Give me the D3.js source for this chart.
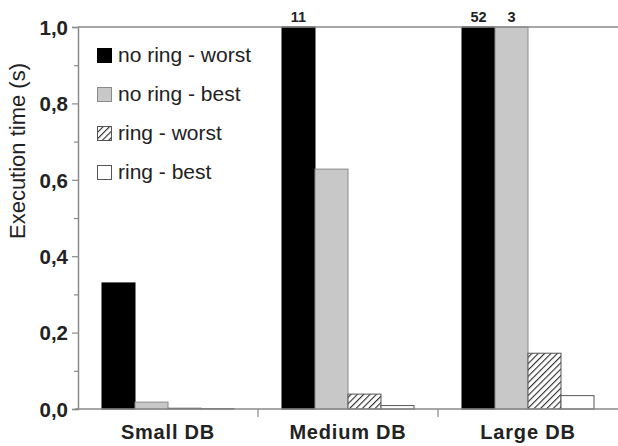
<!DOCTYPE html>
<html><head><meta charset="utf-8">
<script src="https://cdn.jsdelivr.net/npm/d3@7"></script>
<style>body{margin:0;background:#fff}svg{display:block}text{font-family:"Liberation Sans",Arial,sans-serif}</style>
</head><body><svg id="c" width="618" height="446"></svg>
<script>
const categories = ["Small DB", "Medium DB", "Large DB"];
const seriesNames = ["no ring - worst", "no ring - best", "ring - worst", "ring - best"];
const noRingWorst = [0.33, 11, 52];
const noRingBest = [0.018, 0.628, 3];
const ringWorst = [0.002, 0.039, 0.146];
const ringBest = [0.001, 0.009, 0.035];
const yTicks = [0, 0.2, 0.4, 0.6, 0.8, 1.0];
const yMinorTicks = [0.1, 0.3, 0.5, 0.7, 0.9];
const yMax = 1.0;

const series = [noRingWorst, noRingBest, ringWorst, ringBest];
const fills = ["#000", "#c8c8c8", "url(#hatch)", "#fff"];
const strokes = ["#000", "#8a8a8a", "#555", "#555"];

const svg = d3.select("#c");
const L = 78, R = 618, T = 27, B = 409;

const defs = svg.append("defs");
const pat = defs.append("pattern").attr("id", "hatch").attr("patternUnits", "userSpaceOnUse")
  .attr("width", 4.5).attr("height", 4.5).attr("patternTransform", "rotate(45)");
pat.append("rect").attr("width", 4.5).attr("height", 4.5).attr("fill", "#fff");
pat.append("line").attr("x1", 0).attr("y1", 0).attr("x2", 0).attr("y2", 4.5)
  .attr("stroke", "#2a2a2a").attr("stroke-width", 2.2);

const x0 = d3.scaleBand().domain(categories).range([L, R]).paddingInner(0).paddingOuter(0);
const x1 = d3.scaleBand().domain(seriesNames).range([0, x0.bandwidth()]).paddingInner(0).paddingOuter(0.7273);
const y = d3.scaleLinear().domain([0, yMax]).range([B, T]).clamp(true);

// bars
categories.forEach((c, ci) => {
  seriesNames.forEach((s, si) => {
    const v = series[si][ci];
    svg.append("rect")
      .attr("x", x0(c) + x1(s))
      .attr("y", y(v))
      .attr("width", x1.bandwidth())
      .attr("height", B - y(v))
      .attr("fill", fills[si])
      .attr("stroke", strokes[si])
      .attr("stroke-width", 1);
    if (v > yMax) {
      svg.append("text")
        .attr("x", x0(c) + x1(s) + x1.bandwidth() / 2)
        .attr("y", T - 5)
        .attr("text-anchor", "middle")
        .attr("font-size", 14.5).attr("font-weight", "bold").attr("fill", "#222")
        .text(v);
    }
  });
});

// frame: top line
svg.append("line").attr("x1", L).attr("x2", R).attr("y1", T).attr("y2", T)
  .attr("stroke", "#8a8a8a").attr("stroke-width", 1.5);

// y axis
const yAxis = d3.axisLeft(y).tickValues(yTicks).tickSize(6)
  .tickFormat(d => d3.format(".1f")(d).replace(".", ","));
const gy = svg.append("g").attr("transform", `translate(${L},0)`).call(yAxis);
gy.select(".domain").attr("stroke", "#8a8a8a").attr("stroke-width", 1.5);
gy.selectAll(".tick line").attr("stroke", "#8a8a8a").attr("stroke-width", 1.2);
gy.selectAll(".tick text").attr("font-size", 20.5).attr("font-weight", "bold")
  .attr("fill", "#222").attr("x", -10).attr("dy", "0.36em")
  .style("font-family", '"Liberation Sans", Arial, sans-serif');
const gym = svg.append("g").attr("transform", `translate(${L},0)`)
  .call(d3.axisLeft(y).tickValues(yMinorTicks).tickSize(4).tickFormat(""));
gym.select(".domain").remove();
gym.selectAll(".tick line").attr("stroke", "#8a8a8a").attr("stroke-width", 1.2);

// x axis
svg.append("line").attr("x1", L - 3).attr("x2", R).attr("y1", B).attr("y2", B)
  .attr("stroke", "#8a8a8a").attr("stroke-width", 1.5);
categories.slice(1).forEach(c => {
  svg.append("line").attr("x1", x0(c)).attr("x2", x0(c)).attr("y1", B).attr("y2", B + 8)
    .attr("stroke", "#8a8a8a").attr("stroke-width", 1.2);
});
categories.forEach(c => {
  svg.append("text").attr("x", x0(c) + x0.bandwidth() / 2).attr("y", 439)
    .attr("text-anchor", "middle").attr("font-size", 20).attr("font-weight", "bold")
    .attr("letter-spacing", 0.8).attr("fill", "#222").text(c);
});

// y title
svg.append("text").attr("transform", "translate(25,151) rotate(-90)")
  .attr("text-anchor", "middle").attr("font-size", 22).attr("fill", "#222")
  .text("Execution time (s)");

// legend
seriesNames.forEach((s, i) => {
  const ly = 48 + i * 39;
  svg.append("rect").attr("x", 97.5).attr("y", ly + 0.5).attr("width", 14).attr("height", 14)
    .attr("fill", fills[i]).attr("stroke", strokes[i]).attr("stroke-width", 1);
  svg.append("text").attr("x", 118).attr("y", ly + 14).attr("font-size", 21)
    .attr("fill", "#222").text(s);
});
</script></body></html>
